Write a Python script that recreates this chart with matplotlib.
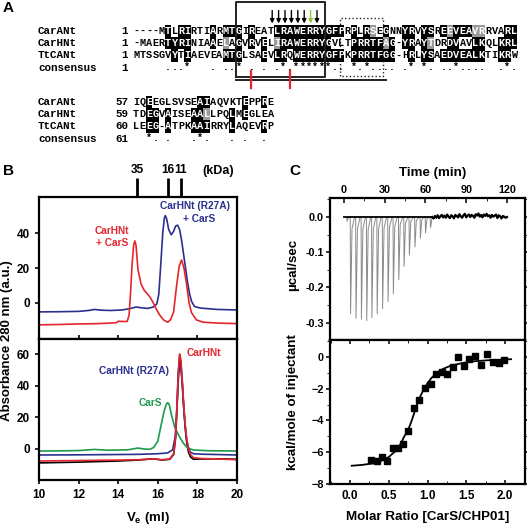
import numpy as np
import matplotlib
matplotlib.use('Agg')
import matplotlib.pyplot as plt
from matplotlib.patches import Rectangle
from matplotlib.ticker import MultipleLocator
from collections import Counter

plt.rcParams['font.family'] = ['Liberation Sans', 'DejaVu Sans']
plt.rcParams['font.weight'] = 'bold'
plt.rcParams['mathtext.fontset'] = 'custom'
plt.rcParams['mathtext.bf'] = 'Liberation Sans:bold'
plt.rcParams['mathtext.rm'] = 'Liberation Sans:bold'

# ---------------- data ----------------
# panel A: alignment
names = ['CarANt', 'CarHNt', 'TtCANt']
block1 = ['----MTLRIRTIARMTGIREATLRAWERRYGFPRPLRSEGNNYRVYSREEVEAVRRVARL',
          '-MAERTYRINIAAELAGVRVELIRAWERRYGVLTPRRTFAG-YRAYTDRDVAVLKQLKRL',
          'MTSSGVYTIAEVEAMTGLSAEVLRQWERRYGFPKPRRTFGG-HRLYSAEDVEALKTIKRW']
block2 = ['IQEEGLSVSEAIAQVKTEPPRE',
          'TDEGVAISEAALLPQLMEGLEA',
          'LEEG-ATPKAAIRRYLAQEVRP']
start1 = [1, 1, 1]
start2 = [57, 59, 60]
cons_start = [1, 61]
arrow_cols = [21, 22, 23, 24, 25, 26, 27, 28]
green_arrow = 27
red_mark_cols = [18, 24]
groups = ['ILVM', 'FYW', 'KRH', 'DE', 'NQ', 'ST', 'AG']

# panel B: gel filtration (Ve in ml, absorbance in a.u.)
std_ve = [14.96, 16.51, 17.16]
std_kda = ['35', '16', '11']

ve_red_top = [10, 11, 12, 13, 13.9, 14.0, 14.45, 14.55, 14.62, 14.7, 14.78, 14.84, 14.9, 15.0,
              15.15, 15.3, 15.45, 15.6, 15.75, 15.9, 16.1, 16.3, 16.5, 16.65, 16.8, 16.95, 17.08,
              17.2, 17.32, 17.45, 17.58, 17.7, 17.95, 18.3, 19, 20]
abs_red_top = [-12.5, -12.3, -12.0, -11.8, -11.3, -10.5, -10.6, -7, 5, 22, 33, 35.5, 33, 19,
               11, 7.5, 5.5, 3.5, 0.5, -3, -7, -9.8, -11, -9.5, -5, 10, 21,
               24.6, 20, 11, 0, -5.5, -9.7, -11, -11.5, -11.8]

ve_blue_top = [10, 11, 12, 12.5, 12.8, 13.1, 13.6, 14.2, 14.6, 14.9, 15.2, 15.5, 15.8, 15.95,
               16.05, 16.15, 16.25, 16.33, 16.38, 16.45, 16.55, 16.68, 16.8, 16.9, 17.0, 17.1,
               17.2, 17.3, 17.4, 17.5, 17.6, 17.7, 17.85, 18.15, 19, 20]
abs_blue_top = [-5.1, -5, -4.8, -4.3, -3.7, -4.1, -4.3, -4, -3.2, -2.3, -2.8, -3.1, -2.2, -0.5,
                5, 22, 40, 48.5, 50, 48, 42, 39, 41, 44, 44.5, 42,
                36, 28, 20, 12, 5.5, 1, -2, -2.9, -3.7, -4]

ve_bot = [10, 12, 14, 15.0, 15.8, 16.2, 16.6, 16.8, 16.9, 16.97, 17.03, 17.1, 17.16, 17.23,
          17.3, 17.38, 17.46, 17.55, 17.65, 17.8, 18.2, 19, 20]
abs_red_bot = [-7.6, -7.3, -7, -6.8, -6.2, -6.8, -6.3, -3, 8, 28, 48, 60, 57, 45,
               30, 16, 6, 0, -3.5, -5.5, -6, -6.3, -6.8]
abs_black_bot = [-8.8, -8.3, -7.6, -7, -6.2, -7, -6.5, -3.5, 7, 27, 47, 58, 55, 43,
                 28, 14, 4, -2, -5, -6.5, -6.3, -6.2, -6.5]
ve_blue_bot = [10, 12, 14, 15, 16, 16.5, 16.75, 16.88, 16.97, 17.04, 17.1, 17.16, 17.23,
               17.3, 17.38, 17.46, 17.55, 17.65, 17.8, 18.2, 19, 20]
abs_blue_bot = [-3.8, -3.7, -3.5, -3.4, -3.0, -2.5, -0.5, 8, 26, 44, 53, 52, 42,
                28, 15, 6, 0.5, -2, -3, -3.3, -3.5, -3.8]
ve_green = [10, 11, 12, 12.8, 13.5, 14.5, 15.0, 15.3, 15.6, 15.8, 16.0, 16.15, 16.3, 16.42,
            16.5, 16.58, 16.7, 16.85, 17.0, 17.15, 17.3, 17.5, 17.8, 18.5, 20]
abs_green = [-1.3, -1.2, -1.0, -0.3, -0.8, -0.5, 0.6, 0.0, -0.2, 1, 5, 14, 23, 28,
             29.3, 28, 21, 14, 10, 6.5, 3.5, 0.6, -0.6, -1.1, -1.3]

# panel C: ITC
inj_time = [2.0, 4.6, 8.6, 12.6, 16.5, 20.3, 24.2, 28.2, 32.2, 36.1, 40.1, 44.0, 47.9,
            52.0, 56.0, 59.8, 63.5]
inj_peak = [-0.012, -0.275, -0.288, -0.29, -0.294, -0.286, -0.275, -0.26, -0.24, -0.218,
            -0.178, -0.14, -0.108, -0.085, -0.06, -0.045, -0.03]
tail_time = list(range(65, 121))
tail_power = [0.0, -0.004, 0.003, -0.002, 0.005, -0.003, 0.002, 0.006, -0.001, 0.004, -0.002,
              0.007, 0.001, -0.003, 0.005, 0.002, -0.004, 0.006, 0.003, -0.001, 0.008, 0.002,
              -0.002, 0.005, 0.009, -0.001, 0.004, 0.007, 0.0, 0.006, 0.003, -0.002, 0.008,
              0.004, 0.01, 0.001, 0.006, -0.001, 0.007, 0.003, 0.009, 0.002, 0.005, -0.002,
              0.006, 0.001, 0.004, 0.007, -0.003, 0.005, 0.002, -0.004, 0.003, 0.001, -0.002, 0.0]

ratio = [0.271, 0.344, 0.409, 0.473, 0.55, 0.615, 0.688, 0.753, 0.826, 0.895, 0.968, 1.041,
         1.11, 1.183, 1.256, 1.325, 1.398, 1.471, 1.54, 1.613, 1.69, 1.763, 1.84, 1.918, 1.99]
heat = [-6.50, -6.54, -6.33, -6.54, -5.76, -5.76, -5.49, -4.67, -3.2, -2.71, -1.98, -1.70,
        -1.07, -0.93, -1.07, -0.61, 0.02, -0.57, -0.13, 0.08, -0.50, 0.19, -0.30, -0.40, -0.19]
fit_x = [0.02, 0.15, 0.3, 0.4, 0.5, 0.58, 0.65, 0.7, 0.75, 0.8, 0.85, 0.9, 0.95, 1.0, 1.05,
         1.12, 1.2, 1.3, 1.45, 1.6, 1.8, 2.08]
fit_y = [-6.85, -6.8, -6.7, -6.55, -6.3, -5.95, -5.5, -5.0, -4.6, -3.95, -3.2, -2.55, -2.05,
         -1.65, -1.33, -1.0, -0.75, -0.55, -0.38, -0.27, -0.2, -0.14]

RED, BLUE, GREEN = '#e3262d', '#2b2f8e', '#1d9a4e'

# ---------------- figure ----------------
W, H = 527, 528
fig = plt.figure(figsize=(W / 100, H / 100), dpi=100)
axA = fig.add_axes([0, 0, 1, 1])
axA.set_xlim(0, W)
axA.set_ylim(H, 0)
axA.axis('off')


def px_axes(l, t, r, b):
    return fig.add_axes([l / W, 1 - b / H, (r - l) / W, (b - t) / H])


def grp(r):
    for g in groups:
        if r in g:
            return g
    return r


def column_info(col):
    res = [r for r in col if r != '-']
    cnt = Counter(res)
    mode, n = cnt.most_common(1)[0] if res else ('-', 0)
    if n < 2:
        mode = None
    shades = []
    for r in col:
        if r == '-' or mode is None:
            shades.append(None)
        elif r == mode:
            shades.append('black')
        elif grp(r) == grp(mode):
            shades.append('#9a9a9a')
        else:
            shades.append(None)
    if len(res) == 3 and n == 3:
        c = '*'
    elif len(res) == 3 and n == 2:
        c = '.'
    else:
        c = ' '
    return shades, c


x0, cw, rh = 133, 6.4, 12.2
mono = 'Liberation Mono'


def draw_block(block, starts, cstart, ytop):
    ys = [ytop + i * rh for i in range(4)]
    cons = ''
    for c in range(len(block[0])):
        shades, cc = column_info([s[c] for s in block])
        cons += cc
        for i, s in enumerate(block):
            xc = x0 + (c + 0.5) * cw
            if shades[i]:
                axA.add_patch(Rectangle((x0 + c * cw, ys[i] - rh / 2), cw, rh,
                                        fc=shades[i], ec='none'))
            axA.text(xc, ys[i], s[c], ha='center', va='center', family=mono,
                     size=7.4, weight='bold',
                     color='white' if shades[i] else 'black')
    for c, ch in enumerate(cons):
        if ch != ' ':
            axA.text(x0 + (c + 0.5) * cw, ys[3] - 1, ch, ha='center', va='center',
                     family=mono, size=7.2, weight='bold')
    for i, nm in enumerate(names + ['consensus']):
        axA.text(38, ys[i], nm, ha='left', va='center', family=mono, size=7.8)
        num = starts[i] if i < 3 else cstart
        axA.text(128, ys[i], str(num), ha='right', va='center', family=mono, size=7.8)


draw_block(block1, start1, cons_start[0], 31)
draw_block(block2, start2, cons_start[1], 102)

# boxes, arrows and marks on the alignment
def colx(c):
    return x0 + c * cw

axA.plot([colx(16.15), colx(16.15), colx(30.05), colx(30.05), colx(16.15)],
         [77, 1.5, 1.5, 77, 77], color='#222222', lw=1.4)
axA.plot([colx(16.15), colx(39.5)], [80, 80], color='#222222', lw=1.4)
axA.plot([colx(32.3), colx(32.3), colx(39.1), colx(39.1), colx(32.3)],
         [76, 18, 18, 76, 76], color='#222222', lw=1.0, ls=':')
for c in arrow_cols:
    col = '#8dc63f' if c == green_arrow else 'black'
    axA.annotate('', xy=(colx(c + 0.75), 23.5), xytext=(colx(c + 0.75), 10.5),
                 arrowprops=dict(arrowstyle='-|>', color=col, lw=1.0, mutation_scale=6,
                                 shrinkA=0, shrinkB=0))
for c in red_mark_cols:
    axA.plot([colx(c + 0.5)] * 2, [71, 88], color=RED, lw=1.6)

axA.text(3, 8, 'A', ha='left', va='center', size=11, weight='bold')
axA.text(3, 171, 'B', ha='left', va='center', size=11, weight='bold')
axA.text(289, 171, 'C', ha='left', va='center', size=11, weight='bold')

# ---------------- panel B ----------------
axB1 = px_axes(39, 197, 237, 339)
axB2 = px_axes(39, 339, 237, 480)
for ax in (axB1, axB2):
    ax.set_xlim(10, 20)
    for s in ax.spines.values():
        s.set_linewidth(1.6)
    ax.tick_params(labelsize=8.5, width=1.2, length=3)
    ax.set_xticks(range(10, 21, 2))

axB1.plot(ve_blue_top, abs_blue_top, color=BLUE, lw=1.2)
axB1.plot(ve_red_top, abs_red_top, color=RED, lw=1.2)
axB1.set_ylim(-20.6, 60.6)
axB1.set_yticks([0, 20, 40])
axB1.tick_params(axis='x', direction='in', labelbottom=False)
axB1.text(13.7, 37.7, 'CarHNt\n+ CarS', color=RED, ha='center', va='center',
          size=7.3, weight='bold', linespacing=1.15)
axB1.text(17.9, 55.2, 'CarHNt (R27A)', color=BLUE, ha='center', va='center',
          size=7.3, weight='bold')
axB1.text(18.1, 48.2, '+ CarS', color=BLUE, ha='center', va='center', size=7.3,
          weight='bold')

top = axB1.twiny()
top.set_xlim(10, 20)
top.set_xticks(std_ve)
top.set_xticklabels(std_kda)
top.tick_params(axis='x', length=14, width=2.0, labelsize=8.6, pad=1)
for s in top.spines.values():
    s.set_visible(False)
axA.text(218, 171, '(kDa)', ha='center', va='center', size=9, weight='bold')

axB2.plot(ve_bot, abs_black_bot, color='black', lw=1.2)
axB2.plot(ve_green, abs_green, color=GREEN, lw=1.2)
axB2.plot(ve_blue_bot, abs_blue_bot, color=BLUE, lw=1.2)
axB2.plot(ve_bot, abs_red_bot, color=RED, lw=1.2)
axB2.set_ylim(-19.6, 69.5)
axB2.set_yticks([0, 20, 40, 60])
axB2.text(18.35, 60.6, 'CarHNt', color=RED, ha='center', va='center', size=7.3, weight='bold')
axB2.text(14.82, 49.2, 'CarHNt (R27A)', color=BLUE, ha='center', va='center', size=7.3,
          weight='bold')
axB2.text(15.6, 29, 'CarS', color=GREEN, ha='center', va='center', size=7.3, weight='bold')

axA.text(7, 341, 'Absorbance 280 nm (a.u.)', rotation=90, ha='center', va='center',
         size=9.5, weight='bold')
axA.text(148, 518, r'V$_\mathbf{e}$ (ml)', ha='center', va='center', size=9.5, weight='bold')

# ---------------- panel C ----------------
axC1 = px_axes(330, 198, 525, 340)
axC2 = px_axes(330, 340, 525, 484)
for ax in (axC1, axC2):
    for s in ax.spines.values():
        s.set_linewidth(1.6)
    ax.tick_params(labelsize=7.8, width=1.1)

for t, d in zip(inj_time, inj_peak):
    axC1.plot([t, t + 0.25, t + 1.3, t + 3.2], [0, d, d * 0.12, 0], color='#8a8a8a', lw=0.7)
axC1.plot([0, tail_time[0]], [0, 0], color='black', lw=1.3)
axC1.plot(tail_time, tail_power, color='black', lw=1.6)
axC1.set_xlim(-10.3, 133.3)
axC1.set_ylim(-0.349, 0.054)
axC1.set_xticks([0, 30, 60, 90, 120])
axC1.xaxis.set_minor_locator(MultipleLocator(15))
axC1.set_yticks([0.0, -0.1, -0.2, -0.3])
axC1.set_yticklabels(['0.0', '-0.1', '-0.2', '-0.3'])
axC1.yaxis.set_minor_locator(MultipleLocator(0.05))
axC1.tick_params(axis='x', which='both', top=True, bottom=False, labeltop=True,
                 labelbottom=False, direction='in', pad=2)
axC1.tick_params(axis='x', which='major', length=3.5)
axC1.tick_params(axis='x', which='minor', length=2)
axC1.tick_params(axis='y', which='both', left=True, right=True, direction='out', pad=1.5)
axC1.tick_params(axis='y', which='major', length=3)
axC1.tick_params(axis='y', which='minor', length=2)

axC2.plot(fit_x, fit_y, color='black', lw=1.3)
axC2.plot(ratio, heat, 's', color='black', ms=4.4)
axC2.set_xlim(-0.26, 2.26)
axC2.set_ylim(-8, 1.07)
axC2.set_xticks([0.0, 0.5, 1.0, 1.5, 2.0])
axC2.set_xticklabels(['0.0', '0.5', '1.0', '1.5', '2.0'])
axC2.xaxis.set_minor_locator(MultipleLocator(0.25))
axC2.set_yticks([0, -2, -4, -6, -8])
axC2.yaxis.set_minor_locator(MultipleLocator(1))
axC2.tick_params(axis='x', which='both', top=True, bottom=True, direction='in', pad=4,
                 labelsize=8.5)
axC2.tick_params(axis='y', which='both', left=True, right=True, direction='out', pad=1.5)
axC2.tick_params(which='major', length=3)
axC2.tick_params(which='minor', length=2)

axA.text(433, 173, 'Time (min)', ha='center', va='center', size=9.6, weight='bold')
axA.text(293, 265, 'µcal/sec', rotation=90, ha='center', va='center', size=9.6,
         weight='bold')
axA.text(293, 402, 'kcal/mole of injectant', rotation=90, ha='center', va='center',
         size=9.6, weight='bold')
axA.text(428, 517, 'Molar Ratio [CarS/CHP01]', ha='center', va='center', size=9.6,
         weight='bold')

fig.savefig('out.png', dpi=100)
